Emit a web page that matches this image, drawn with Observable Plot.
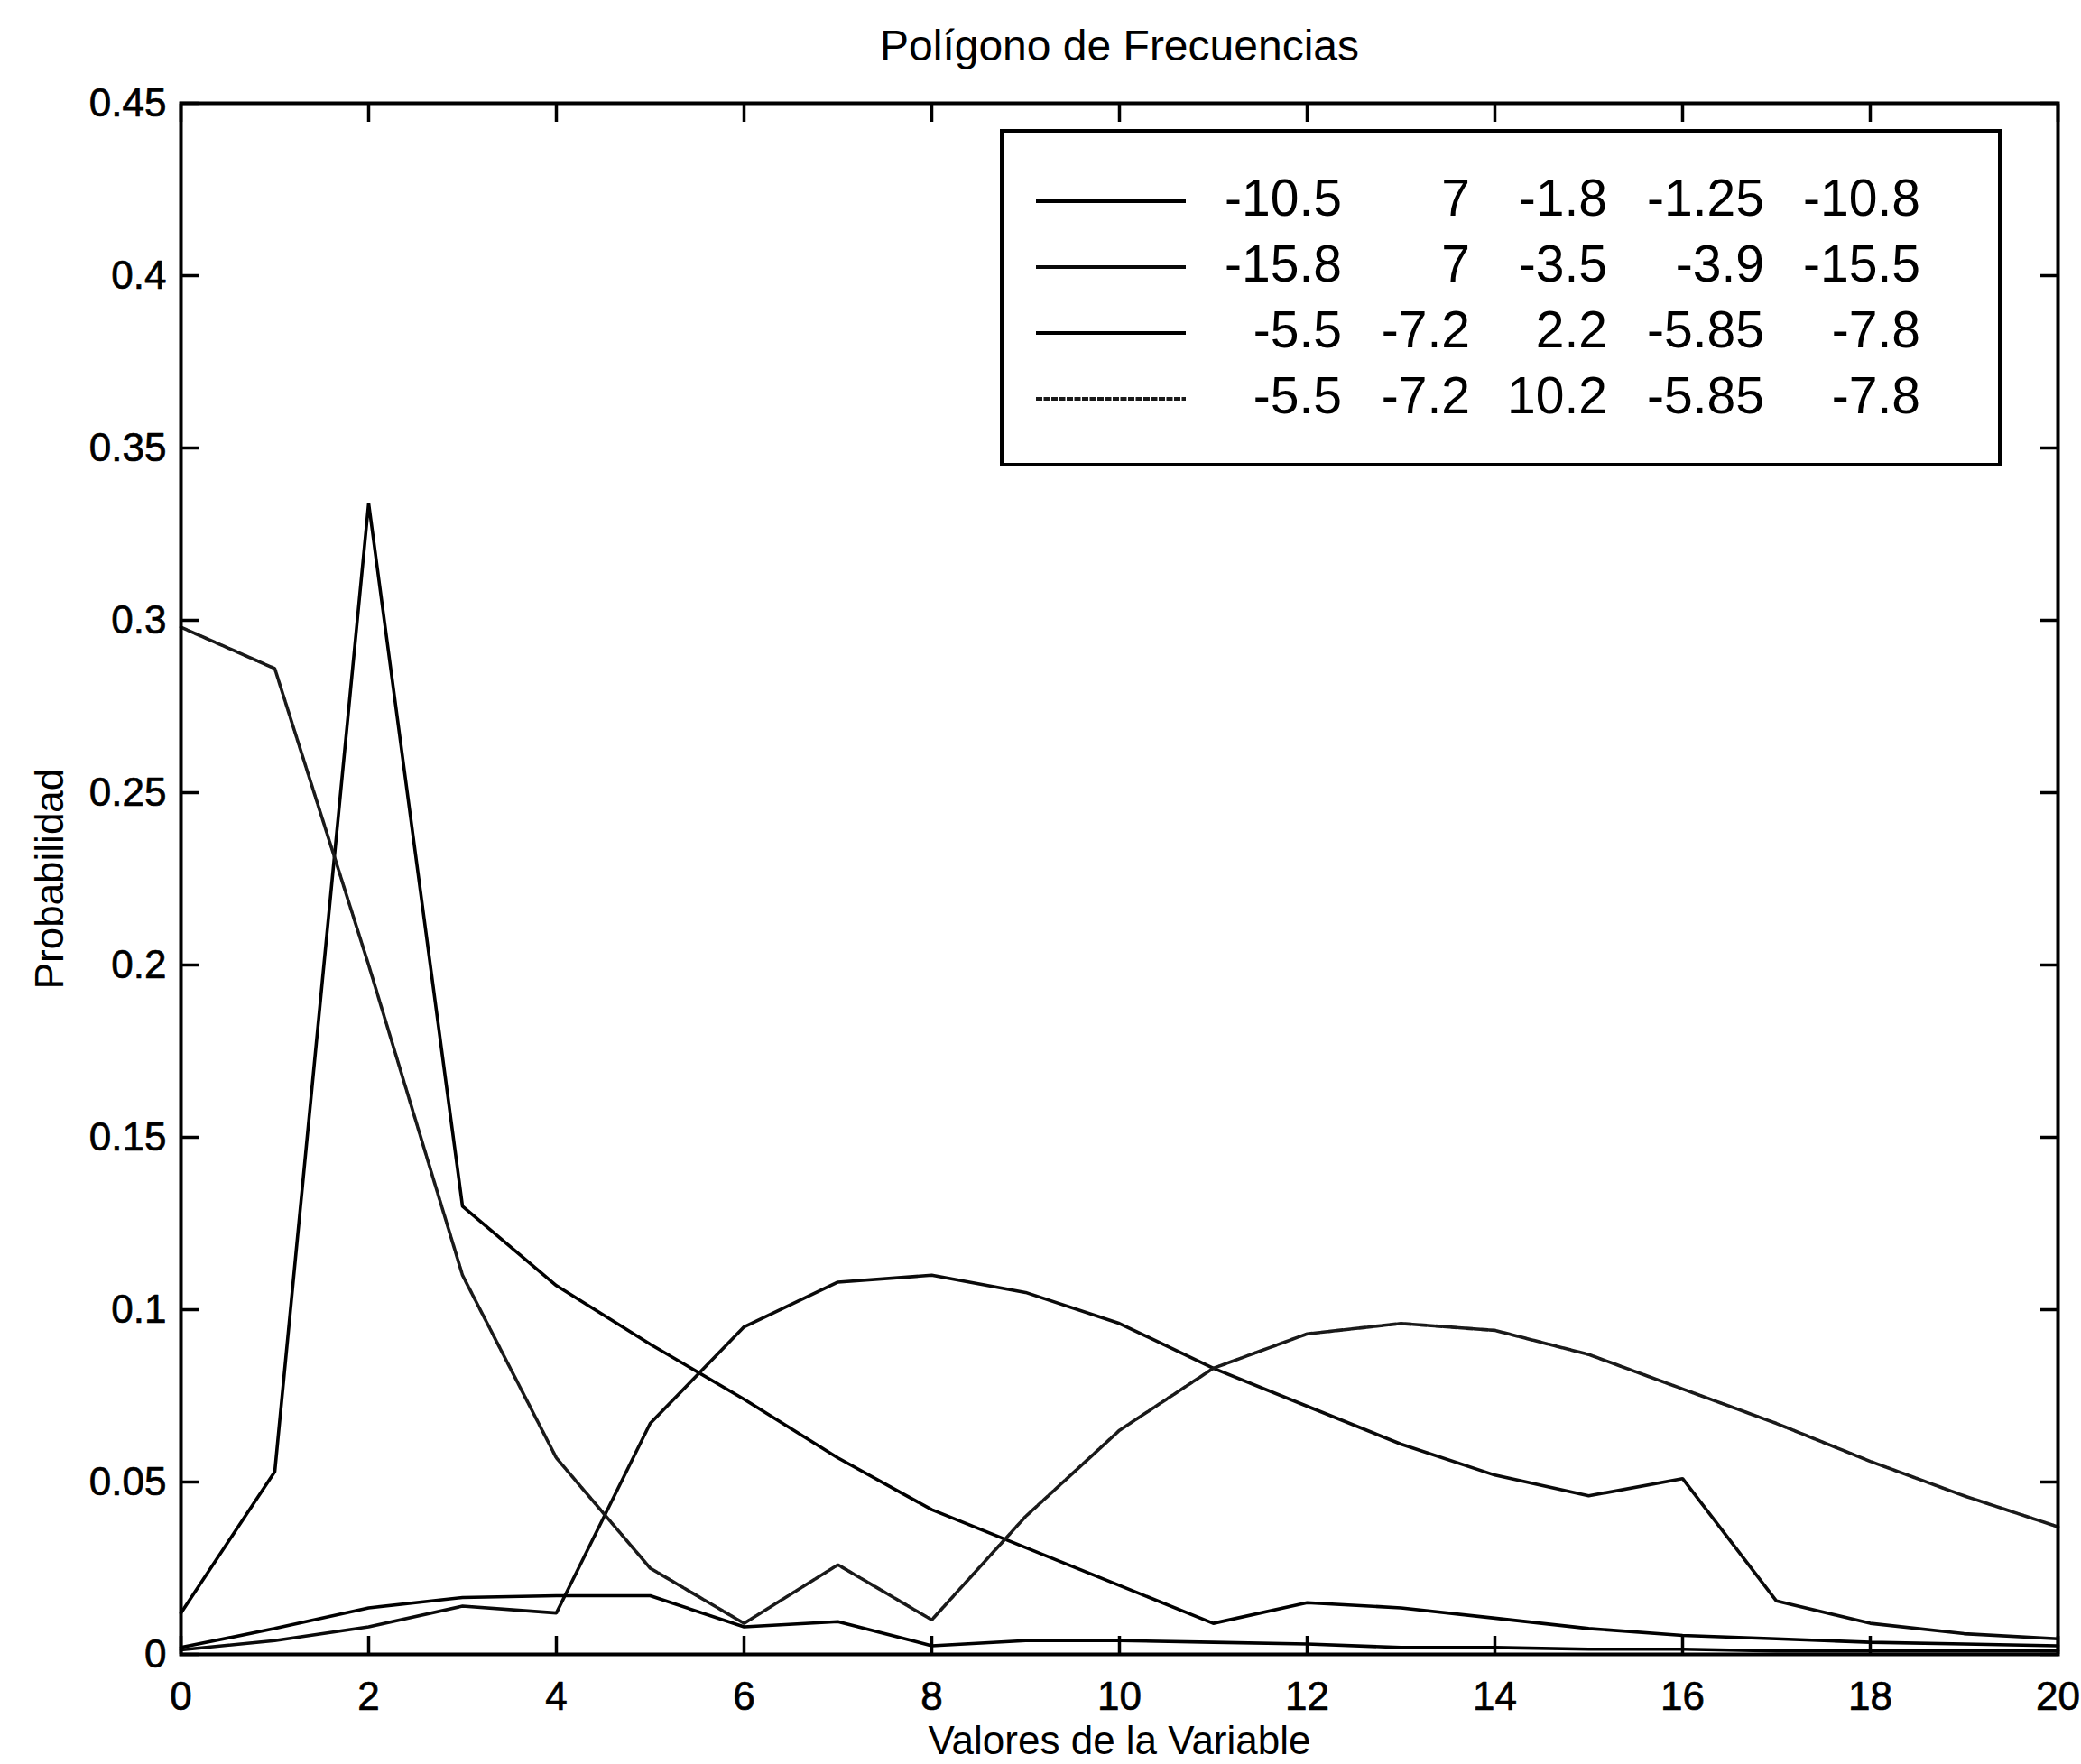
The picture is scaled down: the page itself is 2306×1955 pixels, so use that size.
<!DOCTYPE html>
<html>
<head>
<meta charset="utf-8">
<script src="https://cdn.jsdelivr.net/npm/d3@7"></script>
<script src="https://cdn.jsdelivr.net/npm/@observablehq/plot@0.6"></script>
<style>
  html, body { margin: 0; padding: 0; background: #fff; overflow: hidden; }
</style>
</head>
<body>
<div id="chart"></div>
<script>
// ---------- data ----------
const xValues = [0, 1, 2, 3, 4, 5, 6, 7, 8, 9, 10, 11, 12, 13, 14, 15, 16, 17, 18, 19, 20];

// legend row 1 (sharp spike at 2)
const series1 = [0.012, 0.053, 0.334, 0.130, 0.107, 0.090, 0.074, 0.057, 0.042, 0.031, 0.020, 0.009, 0.015, 0.0135, 0.0105, 0.0075, 0.0055, 0.0045, 0.0035, 0.003, 0.0025];
// legend row 2 (hump around 8, bump at 16)
const series2 = [0.0013, 0.004, 0.008, 0.014, 0.012, 0.067, 0.095, 0.108, 0.110, 0.105, 0.096, 0.083, 0.072, 0.061, 0.052, 0.046, 0.051, 0.0155, 0.009, 0.006, 0.0045];
// legend row 3 (low curve)
const series3 = [0.002, 0.0075, 0.0135, 0.0165, 0.017, 0.017, 0.008, 0.0095, 0.0025, 0.004, 0.004, 0.0035, 0.003, 0.002, 0.002, 0.0015, 0.0015, 0.001, 0.001, 0.001, 0.001];
// legend row 4 (bimodal)
const series4 = [0.298, 0.286, 0.200, 0.110, 0.057, 0.025, 0.009, 0.026, 0.010, 0.040, 0.065, 0.083, 0.093, 0.096, 0.094, 0.087, 0.077, 0.067, 0.056, 0.046, 0.037];

const legendRows = [
  ["-10.5", "7", "-1.8", "-1.25", "-10.8"],
  ["-15.8", "7", "-3.5", "-3.9", "-15.5"],
  ["-5.5", "-7.2", "2.2", "-5.85", "-7.8"],
  ["-5.5", "-7.2", "10.2", "-5.85", "-7.8"]
];

const xTicks = [0, 2, 4, 6, 8, 10, 12, 14, 16, 18, 20];
const yTicks = [0, 0.05, 0.1, 0.15, 0.2, 0.25, 0.3, 0.35, 0.4, 0.45];

const titleText = "Polígono de Frecuencias";
const xLabel = "Valores de la Variable";
const yLabel = "Probabilidad";

// ---------- styles ----------
const FONT = "'Liberation Sans', Arial, Helvetica, sans-serif";
const seriesList = [series1, series2, series3, series4];
const lineStyles = [
  { stroke: "#000" },
  { stroke: "#0a0a0a" },
  { stroke: "#000" },
  { stroke: "#1a1a1a", strokeDasharray: "7,1.5" }
];

const lineMarks = seriesList.map((s, i) =>
  Plot.line(xValues.map((x, j) => ({ x, y: s[j] })), {
    x: "x", y: "y", strokeWidth: 3.6, strokeLinejoin: "miter", ...lineStyles[i]
  })
);

const tickText = { fontSize: 44, textStroke: "#000", textStrokeWidth: 0.7 };

const chart = Plot.plot({
  width: 2306,
  height: 1955,
  marginLeft: 200,
  marginRight: 26,
  marginTop: 114,
  marginBottom: 122,
  style: { fontFamily: FONT, fontSize: "40px", color: "#000", background: "#fff", overflow: "visible" },
  x: { domain: [0, 20], label: null },
  y: { domain: [0, 0.45], label: null },
  marks: [
    Plot.axisX({ anchor: "bottom", ticks: xTicks, tickSize: 0, tickPadding: 30, label: null, ...tickText }),
    Plot.axisX({ anchor: "bottom", ticks: xTicks, tickSize: -20, fill: "none", label: null, strokeWidth: 3.5 }),
    Plot.axisX({ anchor: "top", ticks: xTicks, tickSize: -20, fill: "none", label: null, strokeWidth: 3.5 }),
    Plot.axisY({ anchor: "left", ticks: yTicks, tickSize: 0, tickPadding: 16, tickFormat: d => String(d), label: null, ...tickText }),
    Plot.axisY({ anchor: "left", ticks: yTicks, tickSize: -20, fill: "none", label: null, strokeWidth: 3.5 }),
    Plot.axisY({ anchor: "right", ticks: yTicks, tickSize: -20, fill: "none", label: null, strokeWidth: 3.5 }),
    ...lineMarks,
    Plot.frame({ stroke: "#000", strokeWidth: 4 }),
    Plot.text([titleText], { frameAnchor: "top", dy: -63, text: d => d, fontSize: 48, textAnchor: "middle", lineAnchor: "middle" }),
    Plot.text([xLabel], { frameAnchor: "bottom", dy: 96, text: d => d, fontSize: 44, textAnchor: "middle", lineAnchor: "middle" }),
    Plot.text([yLabel], { frameAnchor: "left", dx: -145, rotate: -90, text: d => d, fontSize: 44, textAnchor: "middle", lineAnchor: "middle" })
  ]
});

document.getElementById("chart").appendChild(chart);

// ---------- legend (inside the axes, top right) ----------
const svg = d3.select(chart);
const lg = svg.append("g").attr("font-family", FONT).attr("font-size", 57).attr("fill", "#000");
lg.append("rect")
  .attr("x", 1110).attr("y", 145).attr("width", 1106).attr("height", 370)
  .attr("fill", "#fff").attr("stroke", "#000").attr("stroke-width", 4);
const rowY = [218, 291, 364, 437];
const colX = [1487, 1629, 1781, 1955, 2128];
legendRows.forEach((row, i) => {
  lg.append("line")
    .attr("x1", 1148).attr("x2", 1314)
    .attr("y1", rowY[i] + 5).attr("y2", rowY[i] + 5)
    .attr("stroke", lineStyles[i].stroke)
    .attr("stroke-width", 4)
    .attr("stroke-dasharray", lineStyles[i].strokeDasharray || null);
  row.forEach((t, j) => {
    lg.append("text")
      .attr("x", colX[j]).attr("y", rowY[i])
      .attr("dy", "0.36em")
      .attr("text-anchor", "end")
      .text(t);
  });
});
</script>
</body>
</html>
